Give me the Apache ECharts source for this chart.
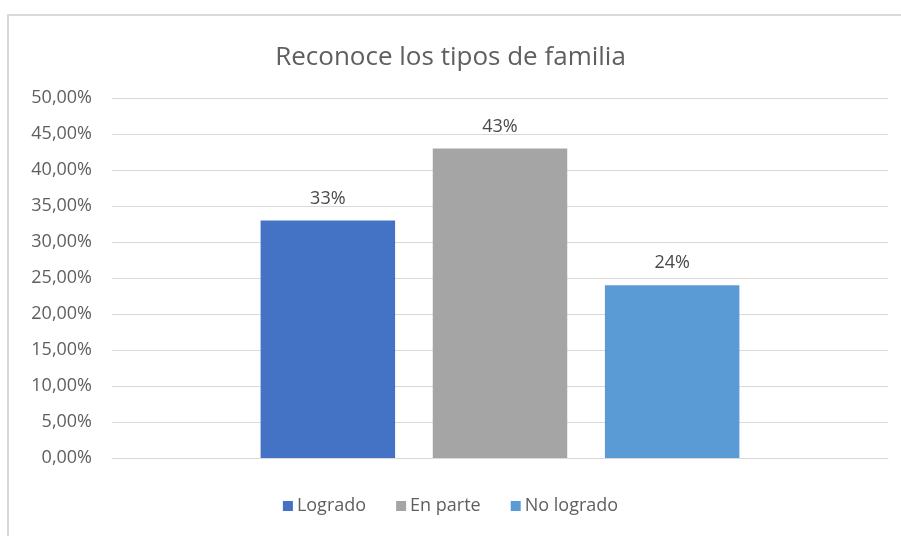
<!DOCTYPE html>
<html><head><meta charset="utf-8">
<script src="https://cdn.jsdelivr.net/npm/echarts@6/dist/echarts.min.js"></script>
<style>html,body{margin:0;padding:0;background:#fff}
#wrap{position:relative;width:901px;height:536px;overflow:hidden}
#frame{position:absolute;left:7px;top:14px;width:1000px;height:1000px;border-left:2px solid #d9d9d9;border-top:2px solid #d9d9d9}
#c{position:absolute;left:0;top:0;width:901px;height:536px}</style>
</head><body><div id="wrap"><div id="frame"></div><div id="c"></div></div>
<script>
const title = 'Reconoce los tipos de familia';
const seriesNames = ['Logrado', 'En parte', 'No logrado'];
const seriesValues = [0.33, 0.43, 0.24];
const seriesColors = ['#4472C4', '#A5A5A5', '#5B9BD5'];
const yTicks = { min: 0, max: 0.5, interval: 0.05 };

const chart = echarts.init(document.getElementById('c'));
const font = "'Open Sans', 'Noto Sans', sans-serif";
chart.setOption({
  animation: false,
  textStyle: { fontFamily: font },
  title: { text: title, left: 'center', top: 40, textStyle: { fontSize: 26, fontWeight: 'normal', color: '#5f5f5f', fontFamily: font } },
  legend: { bottom: 16, itemWidth: 10, itemHeight: 10, itemGap: 30, icon: 'rect', textStyle: { fontSize: 18, color: '#5f5f5f', fontFamily: font, padding: [0, 0, 0, -1] }, data: seriesNames },
  grid: { left: 112, right: 13, top: 98, bottom: 78 },
  xAxis: { type: 'category', data: [''], axisLine: { lineStyle: { color: '#d9d9d9' } }, axisTick: { show: false }, axisLabel: { show: false } },
  yAxis: { type: 'value', min: yTicks.min, max: yTicks.max, interval: yTicks.interval,
    axisLine: { show: false }, axisTick: { show: false },
    splitLine: { lineStyle: { color: '#d9d9d9' } },
    axisLabel: { fontSize: 18, color: '#5f5f5f', margin: 20, fontFamily: font, formatter: v => (v * 100).toFixed(2).replace('.', ',') + '%' } },
  series: seriesNames.map((n, i) => ({
    name: n, type: 'bar', data: [seriesValues[i]],
    itemStyle: { color: seriesColors[i] },
    barGap: '28%', barCategoryGap: '38.3%',
    label: { show: true, position: 'top', distance: 13, fontSize: 18, color: '#4a4a4a', fontFamily: font, formatter: p => Math.round(p.value * 100) + '%' }
  }))
});
</script></body></html>
